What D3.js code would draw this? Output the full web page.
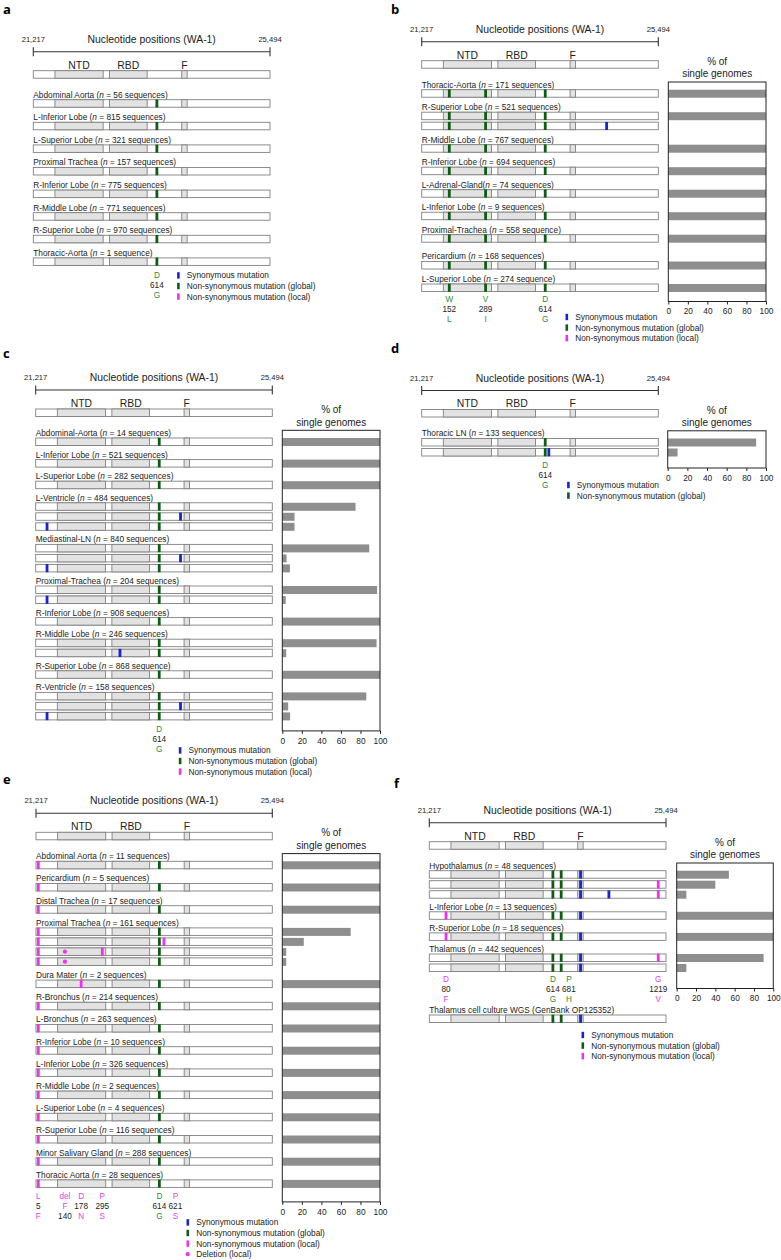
<!DOCTYPE html>
<html>
<head>
<meta charset="utf-8">
<script src="https://cdn.jsdelivr.net/npm/d3@7"></script>
<style>
  body { margin: 0; background: #fff; }
  svg { display: block; }
</style>
</head>
<body>
<svg id="fig" width="781" height="1260"></svg>
<script>
// ---- data ----
const NT_START = 21217, NT_END = 25494;
const rangeText = ["21,217", "25,494"];
const domainNames = ["NTD", "RBD", "F"];
const domainStart = [21608, 22594, 23899];
const domainEnd = [22479, 23274, 23997];

// estimated nucleotide position of each mark, and its kind
const mutPos = {
  L5F: 21259, D80F: 21519, W152L: 21716, del140: 21741, D178N: 22034,
  V289I: 22372, P295S: 22417, D614G: 23450, P621S: 23533, P681H: 23600,
  G1219V: 25354,
  s21422: 21422, s22740: 22740, s23515: 23515, s23835: 23835,
  s23950: 23950, s24462: 24462, s24560: 24560
};
const mutKind = {
  L5F: "local", D80F: "local", W152L: "global", del140: "del", D178N: "local",
  V289I: "global", P295S: "local", D614G: "global", P621S: "local", P681H: "global",
  G1219V: "local",
  s21422: "syn", s22740: "syn", s23515: "syn", s23835: "syn",
  s23950: "syn", s24462: "syn", s24560: "syn"
};

const legendText = ["Synonymous mutation", "Non-synonymous mutation (global)",
  "Non-synonymous mutation (local)", "Deletion (local)"];
const legendKind = ["syn", "global", "local", "del"];
const pctTicks = [0, 20, 40, 60, 80, 100];

// panel a
const aLabels = ["Abdominal Aorta (n = 56 sequences)", "L-Inferior Lobe (n = 815 sequences)",
  "L-Superior Lobe (n = 321 sequences)", "Proximal Trachea (n = 157 sequences)",
  "R-Inferior Lobe (n = 775 sequences)", "R-Middle Lobe (n = 771 sequences)",
  "R-Superior Lobe (n = 970 sequences)", "Thoracic-Aorta (n = 1 sequence)"];
const aBase = ["D614G"];
const aExtra = [[[]], [[]], [[]], [[]], [[]], [[]], [[]], [[]]];
const aAnno = [["D614G", "D", "614", "G"]];

// panel b
const bLabels = ["Thoracic-Aorta (n = 171 sequences)", "R-Superior Lobe (n = 521 sequences)",
  "R-Middle Lobe (n = 767 sequences)", "R-Inferior Lobe (n = 694 sequences)",
  "L-Adrenal-Gland(n = 74 sequences)", "L-Inferior Lobe (n = 9 sequences)",
  "Proximal-Trachea (n = 558 sequence)", "Pericardium (n = 168 sequences)",
  "L-Superior Lobe (n = 274 sequence)"];
const bBase = ["W152L", "V289I", "D614G"];
const bExtra = [[[]], [[], ["s24560"]], [[]], [[]], [[]], [[]], [[]], [[]], [[]]];
const bPct = [[100], [99.6, 0.4], [100], [100], [100], [100], [100], [100], [100]];
const bAnno = [["W152L", "W", "152", "L"], ["V289I", "V", "289", "I"], ["D614G", "D", "614", "G"]];

// panel c
const cLabels = ["Abdominal-Aorta (n = 14 sequences)", "L-Inferior Lobe (n = 521 sequences)",
  "L-Superior Lobe (n = 282 sequences)", "L-Ventricle (n = 484 sequences)",
  "Mediastinal-LN (n = 840 sequences)", "Proximal-Trachea (n = 204 sequences)",
  "R-Inferior Lobe (n = 908 sequences)", "R-Middle Lobe (n = 246 sequences)",
  "R-Superior Lobe (n = 868 sequence)", "R-Ventricle (n = 158 sequences)"];
const cBase = ["D614G"];
const cExtra = [[[]], [[]], [[]],
  [[], ["s23835"], ["s21422"]],
  [[], ["s23835"], ["s21422"]],
  [[], ["s21422"]],
  [[]],
  [[], ["s22740"]],
  [[]],
  [[], ["s23835"], ["s21422"]]];
const cPct = [[100], [100], [100], [75, 12.5, 12.5], [89, 4.4, 7.8], [97, 3.5],
  [100], [96.5, 4], [100], [86, 6, 8]];
const cAnno = [["D614G", "D", "614", "G"]];

// panel d
const dLabels = ["Thoracic LN (n = 133 sequences)"];
const dBase = ["D614G"];
const dExtra = [[[], ["s23515"]]];
const dPct = [[90, 10]];
const dAnno = [["D614G", "D", "614", "G"]];

// panel e
const eLabels = ["Abdominal Aorta (n = 11 sequences)", "Pericardium (n = 5 sequences)",
  "Distal Trachea (n = 17 sequences)", "Proximal Trachea (n = 161 sequences)",
  "Dura Mater (n = 2 sequences)", "R-Bronchus (n = 214 sequences)",
  "L-Bronchus (n = 263 sequences)", "R-Inferior Lobe (n = 10 sequences)",
  "L-Inferior Lobe (n = 326 sequences)", "R-Middle Lobe (n = 2 sequences)",
  "L-Superior Lobe (n = 4 sequences)", "R-Superior Lobe (n = 116 sequences)",
  "Minor Salivary Gland (n = 288 sequences)", "Thoracic Aorta (n = 28 sequences)"];
const eBase = ["D614G"];
const eExtra = [[["L5F"]], [["L5F"]], [["L5F"]],
  [["L5F"], ["L5F", "P621S"], ["L5F", "del140", "P295S"], ["L5F", "del140"]],
  [["D178N"]],
  [["L5F"]], [["L5F"]], [["L5F"]], [["L5F"]], [["L5F"]], [["L5F"]], [["L5F"]],
  [["L5F"]], [["L5F"]]];
const ePct = [[100], [100], [100], [70, 22, 4, 4], [100], [100], [100], [100],
  [100], [100], [100], [100], [100], [100]];
const eAnno = [["L5F", "L", "5", "F"], ["del140", "del", "F", "140"], ["D178N", "D", "178", "N"],
  ["P295S", "P", "295", "S"], ["D614G", "D", "614", "G"], ["P621S", "P", "621", "S"]];

// panel f
const fLabels = ["Hypothalamus (n = 48 sequences)", "L-Inferior Lobe (n = 13 sequences)",
  "R-Superior Lobe (n = 18 sequences)", "Thalamus (n = 442 sequences)"];
const fBase = ["D614G", "P681H", "s23950"];
const fExtra = [[[], ["G1219V"], ["s24462", "G1219V"]], [["D80F"]], [["D80F"]], [["G1219V"], []]];
const fPct = [[54, 40, 10], [100], [100], [90, 10]];
const fAnno = [["D80F", "D", "80", "F"], ["D614G", "D", "614", "G"],
  ["P681H", "P", "681", "H"], ["G1219V", "G", "1219", "V"]];
const fCulture = "Thalamus cell culture WGS (GenBank OP125352)";
const fCultureMuts = ["D614G", "P681H", "s23950"];

// ---- drawing ----
const FONT = "'Liberation Sans', Arial, Helvetica, sans-serif";
const markColor = { syn: "#1a22d2", global: "#0d5e12", local: "#f032ef", del: "#f032ef" };
const annoColor = { global: "#2e8a3a", local: "#e43fe3", del: "#e43fe3" };
const BAR_H = 7.5;
const ROW_STEP = 10;

const svg = d3.select("#fig").attr("font-family", FONT);

function sampleLabel(g, x, y, str) {
  const i = str.indexOf("(n");
  const t = g.append("text").attr("x", x).attr("y", y).attr("dy", "0.35em")
    .attr("font-size", 8.3).attr("fill", "#222");
  t.append("tspan").text(str.slice(0, i + 1));
  t.append("tspan").attr("font-style", "italic").text("n");
  t.append("tspan").text(str.slice(i + 2));
}

function plainLabel(g, x, y, str) {
  g.append("text").attr("x", x).attr("y", y).attr("dy", "0.35em")
    .attr("font-size", 8.3).attr("fill", "#222").text(str);
}

function geneBar(g, xs, y, muts) {
  const bar = g.append("g");
  bar.append("rect")
    .attr("x", xs(NT_START)).attr("y", y)
    .attr("width", xs(NT_END) - xs(NT_START)).attr("height", BAR_H)
    .attr("fill", "#fff").attr("stroke", "#808080").attr("stroke-width", 0.9);
  bar.selectAll("rect.dom").data(domainNames).join("rect").attr("class", "dom")
    .attr("x", (d, i) => xs(domainStart[i])).attr("y", y)
    .attr("width", (d, i) => xs(domainEnd[i]) - xs(domainStart[i])).attr("height", BAR_H)
    .attr("fill", "#e2e2e2").attr("stroke", "#808080").attr("stroke-width", 0.9);
  const ticks = muts.filter(k => mutKind[k] !== "del");
  bar.selectAll("rect.mut").data(ticks).join("rect").attr("class", "mut")
    .attr("x", k => xs(mutPos[k]) - 1.4).attr("y", y - 0.3)
    .attr("width", 2.8).attr("height", BAR_H + 0.6)
    .attr("fill", k => markColor[mutKind[k]]);
  const dels = muts.filter(k => mutKind[k] === "del");
  bar.selectAll("circle.mut").data(dels).join("circle").attr("class", "mut")
    .attr("cx", k => xs(mutPos[k])).attr("cy", y + BAR_H / 2).attr("r", 2.1)
    .attr("fill", markColor.del);
}

function legend(g, x, y, n) {
  const rows = g.selectAll("g.leg").data(legendText.slice(0, n)).join("g")
    .attr("class", "leg")
    .attr("transform", (d, i) => `translate(${x},${y + i * 10.6})`);
  rows.filter((d, i) => legendKind[i] !== "del").append("rect")
    .attr("x", -1.2).attr("y", -3.2).attr("width", 2.6).attr("height", 6.4)
    .attr("fill", (d, i) => markColor[legendKind[i]]);
  rows.filter((d, i) => legendKind[i] === "del").append("circle")
    .attr("r", 2.1).attr("fill", markColor.del);
  rows.append("text").attr("x", 8.5).attr("dy", "0.35em")
    .attr("font-size", 8.3).attr("fill", "#222").text(d => d);
}

function drawPanel(p) {
  const g = svg.append("g");
  const xs = d3.scaleLinear().domain([NT_START, NT_END]).range([p.x0, p.x1]);

  g.append("text").attr("x", p.letter[0]).attr("y", p.letter[1])
    .attr("font-family", "'Open Sans', sans-serif").attr("font-weight", 700)
    .attr("font-size", 13).text(p.name);

  // nucleotide axis
  const ay = p.axisY;
  g.append("line").attr("x1", xs(NT_START)).attr("x2", xs(NT_END))
    .attr("y1", ay).attr("y2", ay).attr("stroke", "#333").attr("stroke-width", 1.1);
  g.selectAll("line.end").data([NT_START, NT_END]).join("line").attr("class", "end")
    .attr("x1", d => xs(d)).attr("x2", d => xs(d))
    .attr("y1", ay - 4.5).attr("y2", ay + 4.5).attr("stroke", "#333").attr("stroke-width", 1.1);
  g.selectAll("text.end").data([NT_START, NT_END]).join("text").attr("class", "end")
    .attr("x", d => xs(d)).attr("y", ay - 12.5).attr("dy", "0.35em")
    .attr("text-anchor", "middle").attr("font-size", 7.6).attr("fill", "#222")
    .text((d, i) => rangeText[i]);
  g.append("text").attr("x", (xs(NT_START) + xs(NT_END)) / 2).attr("y", ay - 12.5)
    .attr("dy", "0.35em").attr("text-anchor", "middle").attr("font-size", 10.4)
    .attr("fill", "#222").text("Nucleotide positions (WA-1)");

  // domain names and reference bar
  g.selectAll("text.dom").data(domainNames).join("text").attr("class", "dom")
    .attr("x", (d, i) => (xs(domainStart[i]) + xs(domainEnd[i])) / 2)
    .attr("y", ay + 13.3).attr("dy", "0.35em").attr("text-anchor", "middle")
    .attr("font-size", 10.4).attr("fill", "#222").text(d => d);
  const refY = ay + 19;
  geneBar(g, xs, refY, []);

  // samples
  const firstLabel = refY + 24;
  let cur = firstLabel;
  let lastTop = cur;
  const barRows = [];
  p.labels.forEach((lab, i) => {
    cur += (p.extraGap && p.extraGap[i]) || 0;
    sampleLabel(g, p.x0, cur, lab);
    const top = cur + 5;
    p.extra[i].forEach((ex, j) => {
      const y = top + j * ROW_STEP;
      geneBar(g, xs, y, p.base.concat(ex));
      if (p.pct) barRows.push([y, p.pct[i][j]]);
      lastTop = y;
    });
    cur = lastTop + p.gap;
  });
  const lastBottom = lastTop + BAR_H;

  // % of single genomes
  if (p.chart) {
    const xp = d3.scaleLinear().domain([0, 100]).range(p.chart);
    const cTop = firstLabel - 2.7;
    const cBot = lastBottom + p.chartPad;
    const cx = (p.chart[0] + p.chart[1]) / 2;
    g.append("text").attr("x", cx).attr("y", refY + 0.5).attr("dy", "0.35em")
      .attr("text-anchor", "middle").attr("font-size", 10).attr("fill", "#222").text("% of");
    g.append("text").attr("x", cx).attr("y", refY + 13).attr("dy", "0.35em")
      .attr("text-anchor", "middle").attr("font-size", 10).attr("fill", "#222").text("single genomes");
    g.selectAll("rect.pct").data(barRows).join("rect").attr("class", "pct")
      .attr("x", xp(0)).attr("y", d => d[0])
      .attr("width", d => xp(d[1]) - xp(0)).attr("height", BAR_H + 0.5)
      .attr("fill", "#8e8e8e");
    g.append("rect").attr("x", xp(0)).attr("y", cTop)
      .attr("width", xp(100) - xp(0)).attr("height", cBot - cTop)
      .attr("fill", "none").attr("stroke", "#222").attr("stroke-width", 1);
    const ax = g.append("g").attr("transform", `translate(0,${cBot})`)
      .call(d3.axisBottom(xp).tickValues(pctTicks).tickSize(3).tickSizeOuter(0).tickPadding(4));
    ax.select(".domain").remove();
    ax.selectAll("line").attr("stroke", "#222");
    ax.selectAll("text").attr("font-size", 8.3).attr("font-family", FONT).attr("fill", "#222");
  }

  // mutation annotations under the bars
  const annoY = lastBottom + p.annoPad;
  let prevX = -1e9;
  const annoX = p.anno.map(a => {
    let x = xs(mutPos[a[0]]);
    if (x < prevX + 16) x = prevX + 16;
    prevX = x;
    return x;
  });
  p.anno.forEach((a, i) => {
    const col = annoColor[mutKind[a[0]]];
    a.slice(1).forEach((s, j) => {
      g.append("text").attr("x", annoX[i]).attr("y", annoY + j * 9.9).attr("dy", "0.35em")
        .attr("text-anchor", "middle").attr("font-size", 8.2)
        .attr("fill", /^\d+$/.test(s) ? "#222" : col).text(s);
    });
  });

  let legY = annoY + p.legendOffset;
  if (p.culture) {
    const ly = annoY + 2 * 9.9 + 11;
    plainLabel(g, p.x0, ly, p.culture);
    geneBar(g, xs, ly + 5, p.cultureMuts);
    legY = ly + 5 + BAR_H + 12.5;
  }
  legend(g, p.x0 + p.legendDx, legY, p.legendN);
}

drawPanel({ name: "a", letter: [3, 14], x0: 33.3, x1: 270, axisY: 51.7, gap: 17.6,
  labels: aLabels, base: aBase, extra: aExtra, pct: null, chart: null,
  anno: aAnno, annoPad: 10, legendOffset: 0, legendDx: 145, legendN: 3 });

drawPanel({ name: "b", letter: [391, 14], x0: 421.7, x1: 658.3, axisY: 41.7, gap: 17.5,
  extraGap: { 7: 4.3 },
  labels: bLabels, base: bBase, extra: bExtra, pct: bPct, chart: [668.3, 766], chartPad: 10,
  anno: bAnno, annoPad: 8, legendOffset: 17.5, legendDx: 145, legendN: 3 });

drawPanel({ name: "c", letter: [3, 358], x0: 35.7, x1: 272.3, axisY: 390, gap: 16.6,
  labels: cLabels, base: cBase, extra: cExtra, pct: cPct, chart: [282.3, 380], chartPad: 11,
  anno: cAnno, annoPad: 9.5, legendOffset: 21, legendDx: 144.3, legendN: 3 });

drawPanel({ name: "d", letter: [391, 353], x0: 421.7, x1: 658.3, axisY: 390.5, gap: 17,
  labels: dLabels, base: dBase, extra: dExtra, pct: dPct, chart: [667.7, 766], chartPad: 12,
  anno: dAnno, annoPad: 9, legendOffset: 20, legendDx: 146.6, legendN: 2 });

drawPanel({ name: "e", letter: [3, 784], x0: 36, x1: 272.3, axisY: 813.3, gap: 17.2,
  labels: eLabels, base: eBase, extra: eExtra, pct: ePct, chart: [282.3, 380], chartPad: 14.5,
  anno: eAnno, annoPad: 9, legendOffset: 26, legendDx: 151.7, legendN: 4 });

drawPanel({ name: "f", letter: [394, 788], x0: 429.3, x1: 666, axisY: 822.7, gap: 16.1,
  labels: fLabels, base: fBase, extra: fExtra, pct: fPct, chart: [676.7, 773.3], chartPad: 17,
  anno: fAnno, annoPad: 7.7, legendOffset: 0, legendDx: 153.4, legendN: 3,
  culture: fCulture, cultureMuts: fCultureMuts });
</script>
</body>
</html>
